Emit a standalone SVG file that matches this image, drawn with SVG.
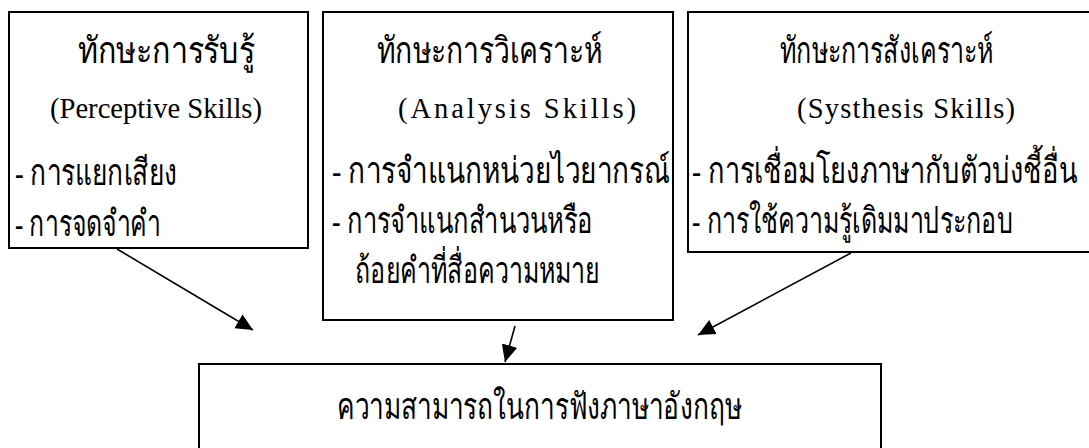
<svg xmlns="http://www.w3.org/2000/svg" width="1089" height="448" viewBox="0 0 1089 448">
<style>
.box{fill:#fff;stroke:#000;stroke-width:2}
.t{font-family:"Liberation Serif","Noto Sans CJK SC",serif;font-size:28.6px;fill:#000}
.th{font-family:"Liberation Serif","Noto Sans CJK SC",serif;font-size:28px;fill:#000}
.conn{stroke:#000;stroke-width:1.6;fill:none;marker-end:url(#ah)}
</style>
<defs>
<marker id="ah" markerUnits="userSpaceOnUse" markerWidth="18" markerHeight="18" viewBox="0 0 18 18" refX="17" refY="9" orient="auto">
<path d="M0,1 L17,9 L0,17 Z" fill="#000"/>
</marker>
</defs>
<rect width="1089" height="448" fill="#fff"/>
<g id="perceptive">
<rect class="box" x="9" y="12" width="299" height="236"/>
<text class="th" transform="translate(78,63) scale(1,1.3)" textLength="177" lengthAdjust="spacingAndGlyphs">ทักษะการรับรู้</text>
<text class="t" x="50" y="118" textLength="212" lengthAdjust="spacingAndGlyphs">(Perceptive Skills)</text>
<text class="th" transform="translate(15,185) scale(1,1.3)" textLength="162" lengthAdjust="spacingAndGlyphs">- การแยกเสียง</text>
<text class="th" transform="translate(15,236) scale(1,1.3)" textLength="146" lengthAdjust="spacingAndGlyphs">- การจดจำคำ</text>
</g>
<g id="analysis">
<rect class="box" x="323" y="12" width="350" height="308"/>
<text class="th" transform="translate(377,63) scale(1,1.3)" textLength="225" lengthAdjust="spacingAndGlyphs">ทักษะการวิเคราะห์</text>
<text class="t" x="398" y="118" textLength="238" lengthAdjust="spacing">(Analysis Skills)</text>
<text class="th" transform="translate(332,183) scale(1,1.3)" textLength="338" lengthAdjust="spacingAndGlyphs">- การจำแนกหน่วยไวยากรณ์</text>
<text class="th" transform="translate(332,233) scale(1,1.3)" textLength="261" lengthAdjust="spacingAndGlyphs">- การจำแนกสำนวนหรือ</text>
<text class="th" transform="translate(355,283) scale(1,1.3)" textLength="245" lengthAdjust="spacingAndGlyphs">ถ้อยคำที่สื่อความหมาย</text>
</g>
<g id="synthesis">
<rect class="box" x="688" y="12" width="420" height="240"/>
<text class="th" transform="translate(780,63) scale(1,1.3)" textLength="213" lengthAdjust="spacingAndGlyphs">ทักษะการสังเคราะห์</text>
<text class="t" x="797" y="118" textLength="218" lengthAdjust="spacing">(Systhesis Skills)</text>
<text class="th" transform="translate(692,183) scale(1,1.3)" textLength="385" lengthAdjust="spacingAndGlyphs">- การเชื่อมโยงภาษากับตัวบ่งชี้อื่น</text>
<text class="th" transform="translate(692,233) scale(1,1.3)" textLength="321" lengthAdjust="spacingAndGlyphs">- การใช้ความรู้เดิมมาประกอบ</text>
</g>
<g id="listening">
<rect class="box" x="199" y="364" width="682" height="110"/>
<text class="th" transform="translate(337,419) scale(1,1.3)" textLength="405" lengthAdjust="spacingAndGlyphs">ความสามารถในการฟังภาษาอังกฤษ</text>
</g>
<g id="connectors">
<line class="conn" x1="117" y1="249" x2="253" y2="330"/>
<line class="conn" x1="515" y1="326" x2="505" y2="362"/>
<line class="conn" x1="851" y1="253" x2="698" y2="335"/>
</g>
</svg>
